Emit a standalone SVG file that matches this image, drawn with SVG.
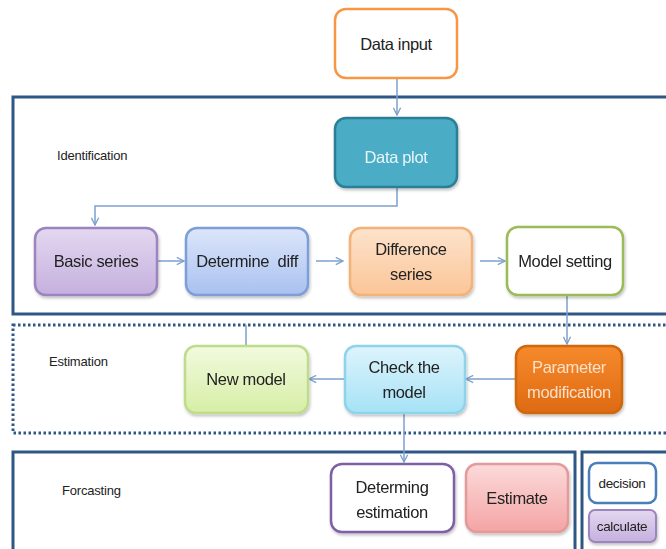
<svg xmlns="http://www.w3.org/2000/svg" width="666" height="549" viewBox="0 0 666 549">
<style>
text{font-family:"Liberation Sans Narrow","Liberation Sans",Arial,sans-serif;fill:#222;text-anchor:middle}
.t{font-size:16.5px;letter-spacing:-0.35px}
.s{font-size:13px;text-anchor:start;letter-spacing:-0.2px}
.n{stroke-width:2.5}
.frame{fill:none;stroke:#2E5785;stroke-width:3}
.c{fill:none;stroke:#7DA0CF;stroke-width:1.5}
</style>
<defs>
<marker id="ah" viewBox="0 0 10 10" refX="9" refY="5" markerWidth="9" markerHeight="9" orient="auto" markerUnits="userSpaceOnUse">
<path d="M1,1 L9,5 L1,9" fill="none" stroke="#7DA0CF" stroke-width="1.5"/>
</marker>
<filter id="sh" x="-10%" y="-10%" width="125%" height="130%">
<feDropShadow dx="1" dy="2" stdDeviation="1.5" flood-color="#000" flood-opacity="0.25"/>
</filter>
<linearGradient id="gPur" x1="0" y1="0" x2="0" y2="1"><stop offset="0" stop-color="#E3D8F0"/><stop offset="1" stop-color="#C5B0DE"/></linearGradient>
<linearGradient id="gBlu" x1="0" y1="0" x2="0" y2="1"><stop offset="0" stop-color="#DCE6FA"/><stop offset="1" stop-color="#A9C1F0"/></linearGradient>
<linearGradient id="gOra" x1="0" y1="0" x2="0" y2="1"><stop offset="0" stop-color="#FDE3CC"/><stop offset="1" stop-color="#FBC598"/></linearGradient>
<linearGradient id="gGrn" x1="0" y1="0" x2="0" y2="1"><stop offset="0" stop-color="#F2FADF"/><stop offset="1" stop-color="#D6EEA5"/></linearGradient>
<linearGradient id="gCya" x1="0" y1="0" x2="0" y2="1"><stop offset="0" stop-color="#DDF4FC"/><stop offset="1" stop-color="#A6E2F6"/></linearGradient>
<linearGradient id="gPar" x1="0" y1="0" x2="0" y2="1"><stop offset="0" stop-color="#F68A2C"/><stop offset="1" stop-color="#DE6A12"/></linearGradient>
<linearGradient id="gPnk" x1="0" y1="0" x2="0" y2="1"><stop offset="0" stop-color="#FCDADA"/><stop offset="1" stop-color="#F4A4A4"/></linearGradient>
</defs>
<rect width="666" height="549" fill="#fff"/>

<g id="frames">
<rect class="frame" x="13" y="97" width="660" height="217"/>
<rect class="frame" x="13" y="325" width="660" height="108" stroke-dasharray="2.5 2.5" stroke-width="3"/>
<rect class="frame" x="13" y="452" width="562" height="110"/>
<rect class="frame" x="582" y="452" width="100" height="110"/>
<text class="s" x="57" y="160">Identification</text>
<text class="s" x="49" y="366">Estimation</text>
<text class="s" x="62" y="495">Forcasting</text>
</g>

<g id="connectors">
<line class="c" x1="397" y1="78" x2="397" y2="115" marker-end="url(#ah)"/>
<polyline class="c" points="397,187 397,206 95,206 95,225" marker-end="url(#ah)"/>
<line class="c" x1="157" y1="261" x2="184" y2="261" marker-end="url(#ah)"/>
<line class="c" x1="316" y1="261" x2="343" y2="261" marker-end="url(#ah)"/>
<line class="c" x1="480" y1="261" x2="505" y2="261" marker-end="url(#ah)"/>
<line class="c" x1="567" y1="295" x2="567" y2="344" marker-end="url(#ah)"/>
<line class="c" x1="515" y1="379" x2="466" y2="379" marker-end="url(#ah)"/>
<line class="c" x1="344" y1="379" x2="309" y2="379" marker-end="url(#ah)"/>
<line class="c" x1="246" y1="345" x2="246" y2="325"/>
<line class="c" x1="404" y1="413" x2="404" y2="462" marker-end="url(#ah)"/>
</g>

<g id="data-input">
<rect class="n" x="335" y="9" width="122" height="69" rx="11" fill="#fff" stroke="#F79646"/>
<text class="t" x="396" y="50">Data input</text>
</g>
<g id="data-plot" filter="url(#sh)">
<rect class="n" x="335" y="118" width="122" height="69" rx="11" fill="#4BACC6" stroke="#2C7F97"/>
<text class="t" x="396" y="163" style="fill:#E8F6FA">Data plot</text>
</g>
<g id="basic-series" filter="url(#sh)">
<rect class="n" x="35" y="228" width="122" height="67" rx="11" fill="url(#gPur)" stroke="#9C85BE"/>
<text class="t" x="96" y="267">Basic series</text>
</g>
<g id="determine-diff" filter="url(#sh)">
<rect class="n" x="186" y="228" width="122" height="67" rx="11" fill="url(#gBlu)" stroke="#7E9ED8"/>
<text class="t" x="247" y="267" xml:space="preserve">Determine  diff</text>
</g>
<g id="difference-series" filter="url(#sh)">
<rect class="n" x="350" y="228" width="122" height="67" rx="11" fill="url(#gOra)" stroke="#F3B27A"/>
<text class="t" x="411" y="255">Difference</text>
<text class="t" x="411" y="280">series</text>
</g>
<g id="model-setting" filter="url(#sh)">
<rect class="n" x="507" y="227" width="116" height="68" rx="11" fill="#fff" stroke="#9BBB59"/>
<text class="t" x="565" y="267">Model setting</text>
</g>
<g id="parameter-modification" filter="url(#sh)">
<rect class="n" x="516" y="346" width="106" height="67" rx="11" fill="url(#gPar)" stroke="#D06710"/>
<text class="t" x="569" y="373" style="fill:#FCE0C8">Parameter</text>
<text class="t" x="569" y="398" style="fill:#FCE0C8">modification</text>
</g>
<g id="check-the-model" filter="url(#sh)">
<rect class="n" x="345" y="346" width="120" height="67" rx="11" fill="url(#gCya)" stroke="#8FD3EA"/>
<text class="t" x="404" y="373">Check the</text>
<text class="t" x="404" y="398">model</text>
</g>
<g id="new-model" filter="url(#sh)">
<rect class="n" x="185" y="346" width="123" height="67" rx="11" fill="url(#gGrn)" stroke="#BFDB8C"/>
<text class="t" x="246" y="385">New model</text>
</g>
<g id="determing-estimation" filter="url(#sh)">
<rect class="n" x="331" y="464" width="123" height="68" rx="11" fill="#fff" stroke="#7F5FA6"/>
<text class="t" x="392" y="493">Determing</text>
<text class="t" x="392" y="518">estimation</text>
</g>
<g id="estimate" filter="url(#sh)">
<rect class="n" x="466" y="464" width="102" height="68" rx="11" fill="url(#gPnk)" stroke="#E39A9A"/>
<text class="t" x="517" y="504">Estimate</text>
</g>
<g id="decision">
<rect class="n" x="589" y="463" width="67" height="40" rx="8" fill="#fff" stroke="#4A7EBB"/>
<text x="622" y="488" style="font-size:13.5px;letter-spacing:-0.3px">decision</text>
</g>
<g id="calculate" filter="url(#sh)">
<rect x="589" y="510" width="67" height="32" rx="6" fill="url(#gPur)" stroke="#9C85BE" stroke-width="2"/>
<text x="622" y="531" style="font-size:13.5px;letter-spacing:-0.3px">calculate</text>
</g>
</svg>
